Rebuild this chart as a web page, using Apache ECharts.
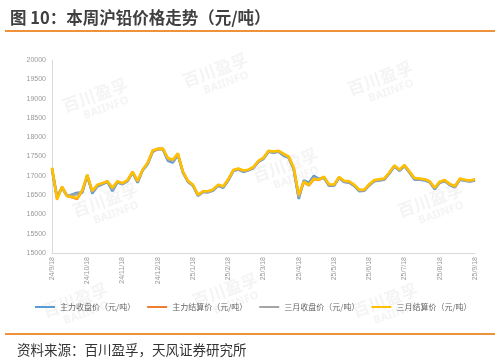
<!DOCTYPE html>
<html><head><meta charset="utf-8">
<script src="https://cdn.jsdelivr.net/npm/echarts@6/dist/echarts.min.js"></script>
<style>html,body{margin:0;padding:0;background:#fff}#c{width:499px;height:363px}</style>
</head><body><div id="c"></div>
<script>
var titleText = "图 10：本周沪铅价格走势（元/吨）";
var sourceText = "资料来源：百川盈孚，天风证券研究所";
var seriesNames = ["主力收盘价（元/吨）","主力结算价（元/吨）","三月收盘价（元/吨）","三月结算价（元/吨）"];
var tickLabels = ["24/9/18","24/10/18","24/11/18","24/12/18","25/1/18","25/2/18","25/3/18","25/4/18","25/5/18","25/6/18","25/7/18","25/8/18","25/9/18"];
var yTicks = [15000,15500,16000,16500,17000,17500,18000,18500,19000,19500,20000];

var mainClose = [17150,16420,16690,16470,16520,16560,16560,17020,16540,16720,16780,16840,16600,16830,16780,16860,17080,16820,17140,17300,17620,17700,17690,17390,17340,17540,17080,16840,16740,16480,16580,16570,16620,16740,16690,16880,17120,17160,17100,17140,17200,17360,17440,17620,17600,17620,17520,17470,17160,16400,16880,16820,17000,16920,16950,16740,16740,16940,16840,16820,16740,16600,16610,16750,16860,16880,16900,17060,17240,17130,17250,17080,16900,16900,16880,16830,16650,16820,16860,16760,16700,16900,16870,16850,16880];
var mainSettle = [17200,16460,16700,16480,16440,16400,16610,16980,16600,16750,16800,16850,16680,16850,16800,16880,17100,16860,17150,17330,17650,17680,17700,17450,17400,17560,17100,16860,16760,16500,16590,16590,16640,16760,16720,16900,17140,17180,17130,17150,17220,17380,17460,17640,17620,17640,17560,17490,17200,16480,16840,16750,16910,16890,16970,16770,16760,16960,16860,16850,16760,16630,16630,16770,16880,16900,16920,17080,17260,17150,17270,17100,16930,16920,16900,16850,16680,16840,16880,16780,16720,16920,16890,16870,16900];
var mar3Close = [17180,16440,16710,16490,16500,16520,16600,17010,16580,16740,16790,16860,16640,16840,16790,16870,17090,16840,17150,17310,17640,17690,17700,17420,17380,17550,17090,16850,16750,16490,16590,16580,16630,16750,16710,16890,17130,17170,17120,17150,17210,17370,17450,17630,17610,17630,17540,17480,17180,16440,16860,16780,16950,16900,16960,16760,16750,16950,16850,16840,16750,16620,16620,16760,16870,16890,16910,17070,17250,17140,17260,17090,16920,16910,16890,16840,16670,16830,16870,16770,16710,16910,16880,16860,16890];
var mar3Settle = [17210,16380,16720,16470,16450,16420,16620,17030,16610,16770,16810,16860,16690,16860,16810,16890,17110,16870,17160,17340,17660,17700,17710,17460,17420,17580,17110,16870,16770,16510,16600,16600,16650,16770,16730,16910,17150,17190,17140,17160,17230,17390,17470,17650,17630,17650,17570,17500,17210,16500,16850,16760,16920,16900,16980,16780,16770,16970,16870,16860,16770,16640,16640,16780,16890,16910,16930,17090,17270,17160,17280,17110,16940,16930,16910,16860,16690,16850,16890,16790,16730,16930,16900,16880,16910];

// categories: one per data point, tick labels on every 7th point
var categories = [];
for (var j = 0; j < tickLabels.length; j++) {
  var p = tickLabels[j].split('/');
  var yy = 2000 + (+p[0]), mm = +p[1] - 1, dd = +p[2];
  var steps = (j === tickLabels.length - 1) ? 1 : 7;
  for (var k = 0; k < steps; k++) {
    if (k === 0) { categories.push(tickLabels[j]); continue; }
    var d = new Date(yy, mm, dd + Math.round(k * 4.4));
    categories.push((d.getFullYear() % 100) + '/' + (d.getMonth() + 1) + '/' + d.getDate());
  }
}

var colors = ['#5b9bd5','#ed7d31','#a5a5a5','#ffc000'];
var chart = echarts.init(document.getElementById('c'));
var wm = [];
var wmPos = [[95,95],[215,70],[380,78],[105,200],[285,165],[430,200],[75,300],[225,290],[385,300]];
wmPos.forEach(function(p){
  wm.push({type:'group', x:p[0], y:p[1], rotation:Math.PI*20/180, silent:true, z:-1, children:[
    {type:'text', style:{text:'百川盈孚', x:0, y:0, align:'center', verticalAlign:'middle', fontSize:17, fontWeight:'bold', fill:'rgba(200,200,200,0.2)', fontFamily:'Noto Sans CJK SC'}},
    {type:'text', style:{text:'BAIINFO', x:6, y:16, align:'center', verticalAlign:'middle', fontSize:11, fontWeight:'bold', fill:'rgba(200,200,200,0.2)', fontFamily:'Noto Sans'}}
  ]});
});
var option = {
  animation:false,
  color: colors,
  grid:{left:52, right:24, top:60, bottom:110},
  title:{text:titleText, left:5, top:4, textStyle:{fontSize:16.5, fontWeight:'bold', color:'#404040', fontFamily:'Noto Sans CJK SC'}},
  graphic: wm.concat([
    {type:'line', shape:{x1:5,y1:31,x2:495,y2:31}, style:{stroke:'#f0923b', lineWidth:2}},
    {type:'line', shape:{x1:5,y1:334,x2:495,y2:334}, style:{stroke:'#f0923b', lineWidth:2}},
    {type:'text', left:17, top:343, style:{text:sourceText, fontSize:13.5, fill:'#333', fontFamily:'Noto Sans CJK SC'}}
  ]),
  legend:{left:30, top:298, icon:'rect', itemWidth:20, itemHeight:2, itemGap:12,
    textStyle:{fontSize:8, color:'#666', fontFamily:'Noto Sans CJK SC'}, data:seriesNames},
  xAxis:{type:'category', data:categories, boundaryGap:false,
    axisLine:{lineStyle:{color:'#d9d9d9'}}, axisTick:{show:false},
    axisLabel:{interval:6, rotate:90, fontSize:7, color:'#999', margin:4}},
  yAxis:{type:'value', min:15000, max:20000, interval:500,
    axisLine:{show:true, lineStyle:{color:'#d9d9d9'}}, axisTick:{show:false}, splitLine:{show:false},
    axisLabel:{fontSize:7, color:'#999', margin:6, formatter:function(v){return String(v);}}},
  series:[mainClose, mainSettle, mar3Close, mar3Settle].map(function(arr,i){
    return {name:seriesNames[i], type:'line', data:arr, showSymbol:false, symbol:'none',
      lineStyle:{width:2.5, color:colors[i]}, z:2+i};
  })
};
chart.setOption(option);
</script></body></html>
